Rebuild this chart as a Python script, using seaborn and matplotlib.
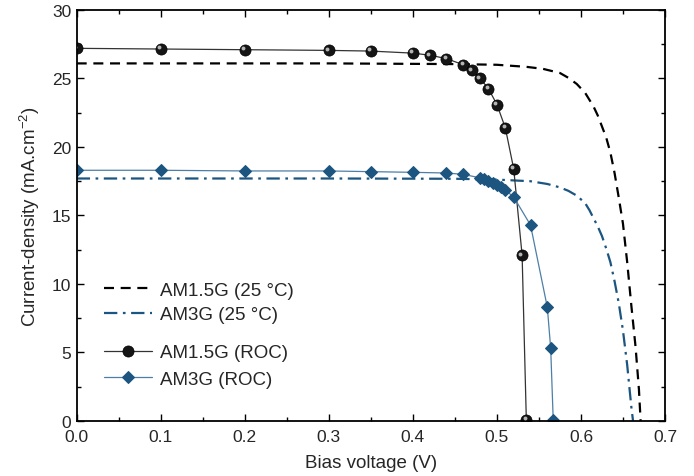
import numpy as np
import pandas as pd
import matplotlib
matplotlib.use("Agg")
import matplotlib.pyplot as plt
import matplotlib.transforms as mtransforms
import seaborn as sns

# Reference curves at 25 °C
v_am15_25 = [0.0, 0.3, 0.45, 0.5, 0.535, 0.555, 0.575, 0.585, 0.595, 0.605, 0.615, 0.62,
             0.625, 0.63, 0.635, 0.64, 0.645, 0.65, 0.655, 0.66, 0.665, 0.669, 0.671]
j_am15_25 = [26.1, 26.1, 26.05, 26.0, 25.85, 25.7, 25.4, 25.05, 24.6, 23.95, 22.95, 22.3,
             21.5, 20.7, 19.6, 18.1, 16.3, 14.4, 11.6, 8.4, 5.4, 2.3, 0.0]

v_am3_25 = [0.0, 0.3, 0.45, 0.5, 0.54, 0.56, 0.575, 0.585, 0.595, 0.605, 0.61, 0.615,
            0.62, 0.625, 0.63, 0.635, 0.64, 0.645, 0.65, 0.655, 0.66, 0.662]
j_am3_25 = [17.7, 17.7, 17.68, 17.62, 17.5, 17.3, 17.05, 16.8, 16.45, 15.9, 15.4, 14.8,
            14.2, 13.5, 12.6, 11.6, 10.2, 8.6, 6.6, 4.1, 1.0, 0.0]

# Measured at ROC
v_am15_roc = [0.0, 0.1, 0.2, 0.3, 0.35, 0.4, 0.42, 0.44, 0.46, 0.47, 0.48, 0.49,
              0.5, 0.51, 0.52, 0.53, 0.535]
j_am15_roc = [27.2, 27.15, 27.1, 27.05, 27.0, 26.85, 26.7, 26.45, 26.0, 25.6, 25.0, 24.25,
              23.1, 21.4, 18.4, 12.1, 0.1]

v_am3_roc = [0.0, 0.1, 0.2, 0.3, 0.35, 0.4, 0.44, 0.46, 0.48, 0.485, 0.49, 0.495,
             0.5, 0.505, 0.51, 0.52, 0.54, 0.56, 0.564, 0.567]
j_am3_roc = [18.3, 18.3, 18.25, 18.25, 18.2, 18.15, 18.1, 18.0, 17.75, 17.65, 17.55, 17.4,
             17.25, 17.05, 16.85, 16.35, 14.3, 8.3, 5.3, 0.1]

BLUE = "#1b5580"
BLUE_LINE = "#4d7fa6"

sns.set_theme(style="ticks")
plt.rcParams["font.family"] = ["Liberation Sans", "DejaVu Sans"]
plt.rcParams["mathtext.default"] = "regular"

fig = plt.figure(figsize=(6.94, 4.77), dpi=100)
ax = fig.add_axes([0.1105, 0.1153, 0.8477, 0.8617])

sns.lineplot(x=v_am15_25, y=j_am15_25, ax=ax, color="black", lw=1.6,
             linestyle=(0, (4.5, 3)), estimator=None, sort=False, label="AM1.5G (25 °C)")
sns.lineplot(x=v_am3_25, y=j_am3_25, ax=ax, color=BLUE, lw=1.6,
             linestyle=(0, (6, 2.5, 1.2, 2.5)), estimator=None, sort=False, label="AM3G (25 °C)")
sns.lineplot(x=v_am15_roc, y=j_am15_roc, ax=ax, color="#333333", lw=0.9,
             marker="o", markersize=8, markerfacecolor="#151515", markeredgecolor="black",
             markeredgewidth=0.5, estimator=None, sort=False, label="AM1.5G (ROC)")
sns.lineplot(x=v_am3_roc, y=j_am3_roc, ax=ax, color=BLUE_LINE, lw=0.9,
             marker="D", markersize=6.5, markerfacecolor=BLUE, markeredgecolor=BLUE,
             estimator=None, sort=False, label="AM3G (ROC)")

# highlight on the spheres
hl = mtransforms.offset_copy(ax.transData, fig=fig, x=-1.2, y=1.2, units="points")
ax.plot(v_am15_roc, j_am15_roc, linestyle="none", marker="o", markersize=2.8,
        color="#b5b5b5", markeredgewidth=0, transform=hl, zorder=5)

ax.set_xlim(0, 0.7)
ax.set_ylim(0, 30)
ax.set_xticks(np.arange(0, 0.71, 0.1))
ax.set_yticks(np.arange(0, 31, 5))
ax.set_xticks(np.arange(0.05, 0.7, 0.1), minor=True)
ax.set_yticks(np.arange(2.5, 30, 5), minor=True)
ax.tick_params(which="both", direction="in", top=True, right=True, labelsize=12.5,
               color="black", width=1.0)
ax.tick_params(which="major", length=5)
ax.tick_params(which="minor", length=3)
ax.tick_params(axis="x", pad=6)
ax.tick_params(axis="y", pad=4)
ax.set_xticklabels([f"{t:.1f}" for t in np.arange(0, 0.71, 0.1)])
for s in ax.spines.values():
    s.set_linewidth(1.3)
    s.set_color("black")

ax.set_xlabel("Bias voltage (V)", fontsize=13.5, labelpad=7)
ax.set_ylabel("Current-density (mA.cm$^{-2}$)", fontsize=13.5, labelpad=7)

handles, labels = ax.get_legend_handles_labels()
leg1 = ax.legend(handles[:2], labels[:2], loc="upper left", bbox_to_anchor=(0.03, 0.362),
                 frameon=False, fontsize=13.5, handlelength=2.6, handletextpad=0.4,
                 labelspacing=0.4, borderpad=0)
ax.add_artist(leg1)
ax.legend(handles[2:4], labels[2:4], loc="upper left", bbox_to_anchor=(0.03, 0.21),
          frameon=False, fontsize=13.5, handlelength=2.6, handletextpad=0.4,
          labelspacing=0.5, borderpad=0)

fig.savefig("out.png", dpi=100)
